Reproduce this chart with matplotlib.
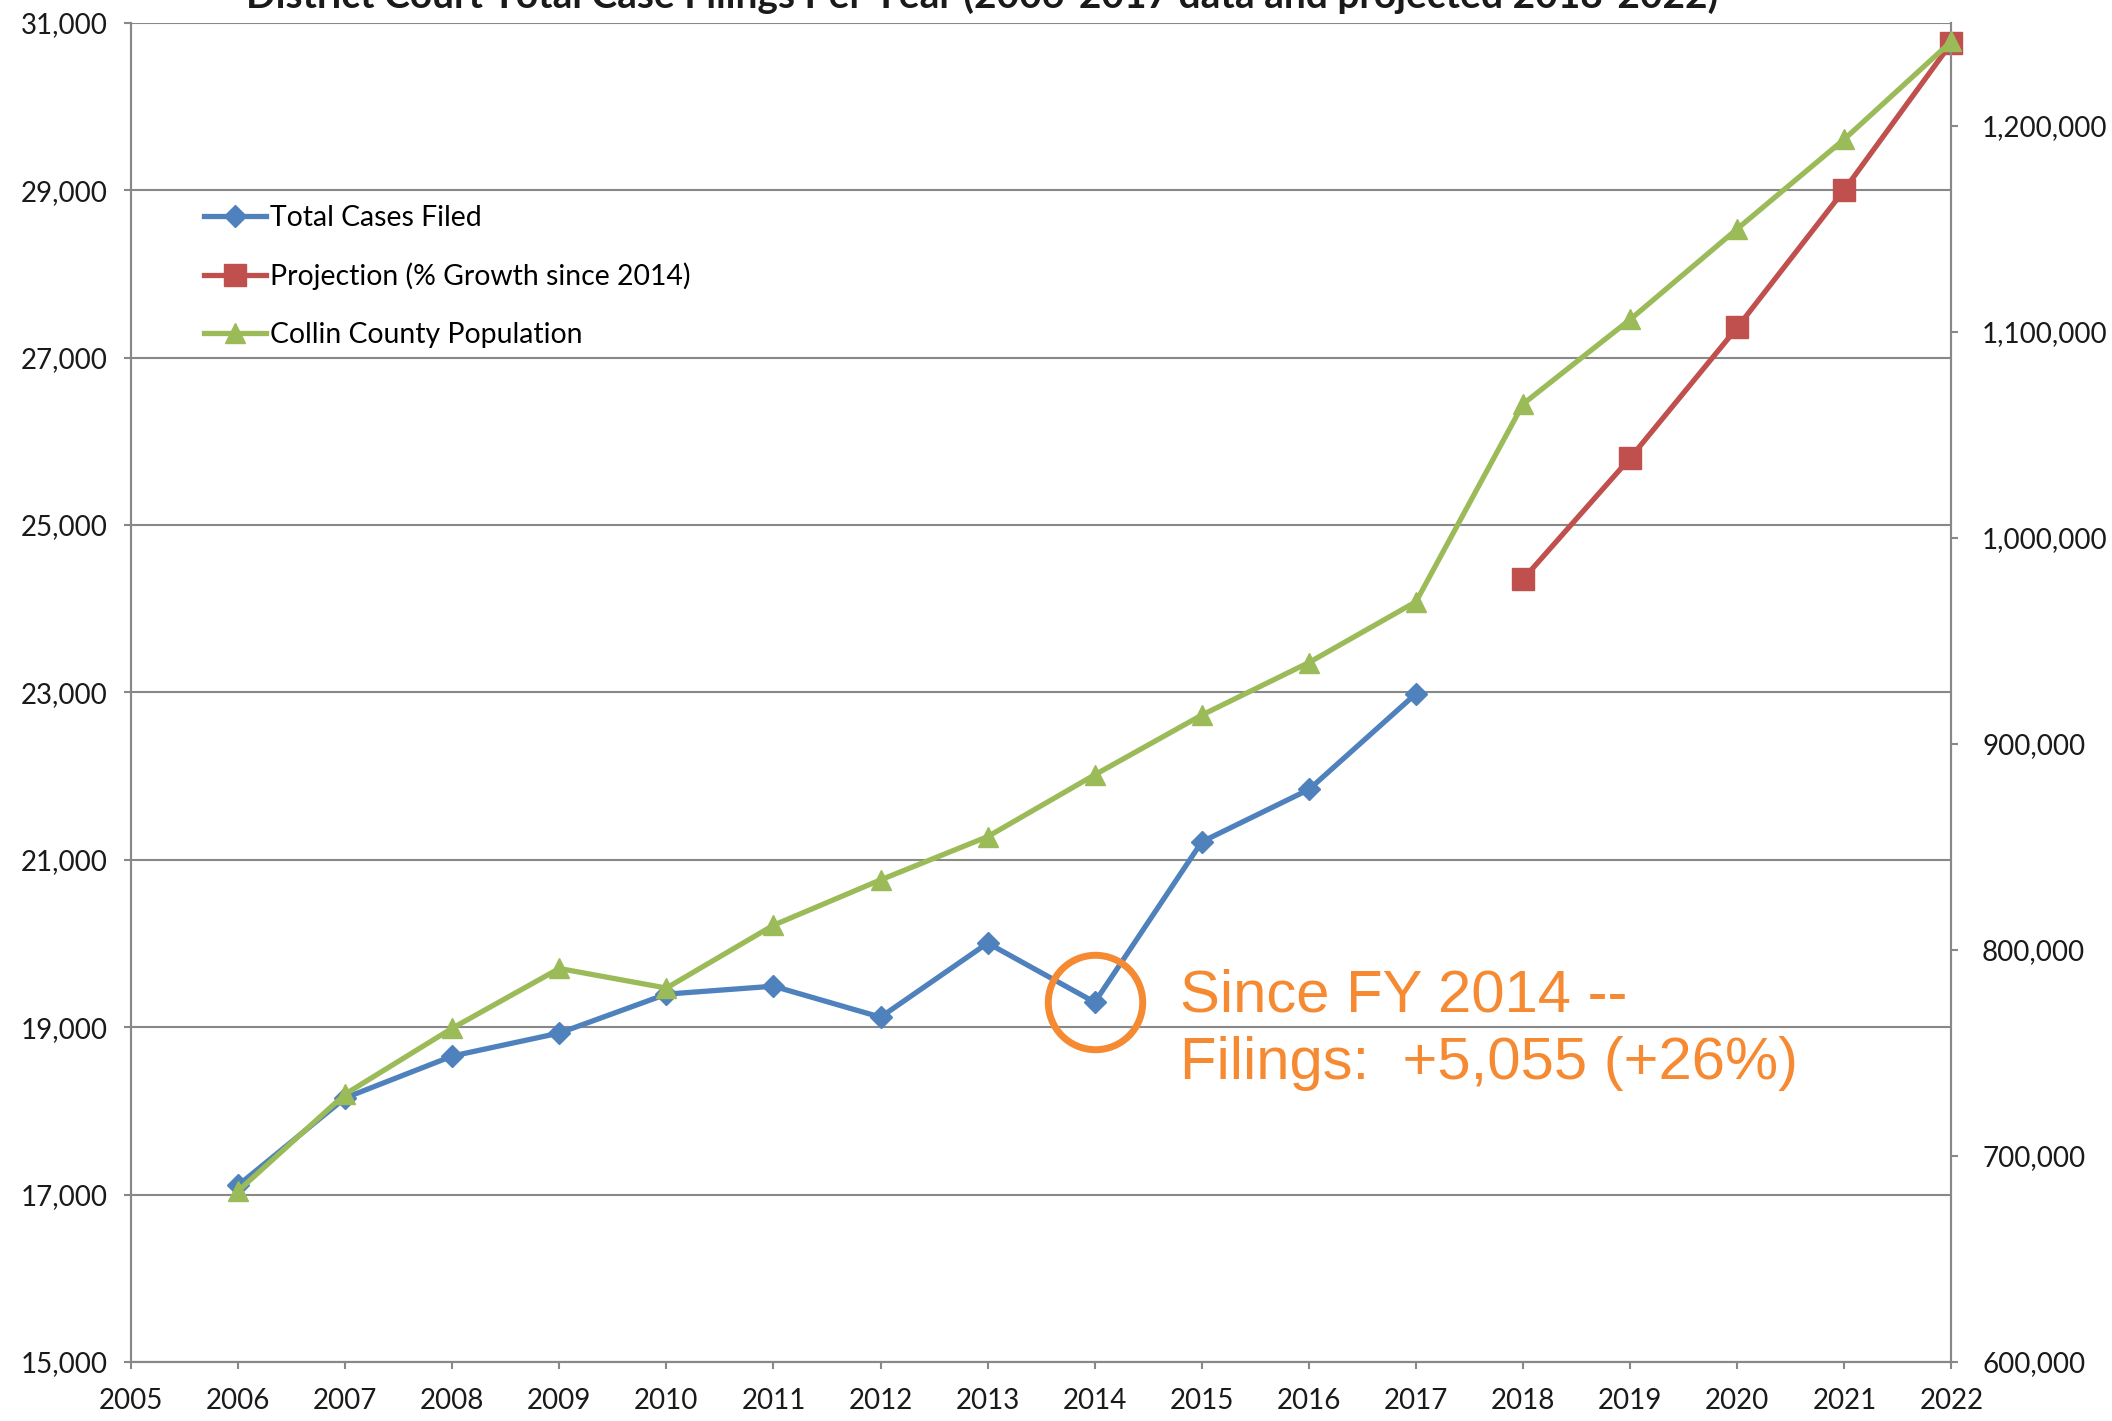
import numpy as np
import matplotlib.pyplot as plt
from matplotlib.ticker import FuncFormatter, MultipleLocator

# -----------------------------
# Data
# -----------------------------
years = [2006, 2007, 2008, 2009, 2010, 2011, 2012, 2013, 2014, 2015, 2016, 2017]
cases = [17110, 18155, 18655, 18930, 19395, 19490, 19120, 20005, 19298, 21215, 21840, 22985]

proj_years = [2018, 2019, 2020, 2021, 2022]
proj_cases = [24353, 25800, 27360, 29005, 30760]

pop_years = list(range(2006, 2023))
population = [683000, 730000, 762000, 791000, 781500, 812000, 834000, 855000,
              885000, 914000, 939500, 969000, 1065000, 1106000, 1150000,
              1193500, 1241000]

left_ticks = list(range(15000, 31001, 2000))
right_ticks = list(range(600000, 1200001, 100000))

title = "District Court Total Case Filings Per Year (2006-2017 data and projected 2018-2022)"
note = "Since FY 2014 --\nFilings:  +5,055 (+26%)"

blue = '#4F81BD'
red = '#C0504D'
green = '#9BBB59'
orange = '#F58A32'
gray = '#888888'

plt.rcParams['font.family'] = ['Lato', 'DejaVu Sans']

fig = plt.figure(figsize=(21.12, 14.21), dpi=100)
ax = fig.add_axes([0.062, 0.0415, 0.862, 0.9425])
ax2 = ax.twinx()

l1, = ax.plot(years, cases, color=blue, lw=3.8, marker='D', markersize=11,
              label='Total Cases Filed', clip_on=False, zorder=3)
l2, = ax.plot(proj_years, proj_cases, color=red, lw=3.8, marker='s', markersize=16,
              label='Projection (% Growth since 2014)', clip_on=False, zorder=3)
l3, = ax2.plot(pop_years, population, color=green, lw=3.8, marker='^', markersize=14,
               label='Collin County Population', clip_on=False, zorder=3)

# circle around the 2014 value
ax.plot([years[8]], [cases[8]], marker='o', markersize=68, markerfacecolor='none',
        markeredgecolor=orange, markeredgewidth=5, zorder=4)
ax.text(2014.8, 18970, note, color=orange, fontsize=43, family='Liberation Sans',
        va='center', ha='left', linespacing=1.29)

# axes
ax.set_xlim(2005, 2022)
ax.set_ylim(15000, 31000)
ax2.set_ylim(600000, 1250000)
ax.xaxis.set_major_locator(MultipleLocator(1))
ax.set_yticks(left_ticks)
ax2.set_yticks(right_ticks)
fmt = FuncFormatter(lambda v, p: f'{v:,.0f}')
ax.yaxis.set_major_formatter(fmt)
ax2.yaxis.set_major_formatter(fmt)

ax.grid(axis='y', color=gray, lw=1.5)
ax.set_axisbelow(True)
for a in (ax, ax2):
    for s in a.spines.values():
        s.set_color(gray)
        s.set_linewidth(1.5)
    a.spines['top'].set_visible(False)
    a.tick_params(colors=gray, labelcolor='#1a1a1a', labelsize=20, width=1.5, length=5)
ax.tick_params(axis='y', pad=12)
ax.tick_params(axis='x', pad=14)
ax2.tick_params(axis='y', pad=17)

ax.legend(handles=[l1, l2, l3], loc='upper left', bbox_to_anchor=(0.026, 0.883),
          frameon=False, fontsize=20.4, handlelength=2.2, handletextpad=0.12,
          labelspacing=1.12)

# title (partly cut off at the top edge, as in the source)
fig.text(0.465, 1.003, title, ha='center', va='center', fontsize=28,
         fontweight='bold', color='#1a1a1a')

fig.savefig('out.png', dpi=100)
